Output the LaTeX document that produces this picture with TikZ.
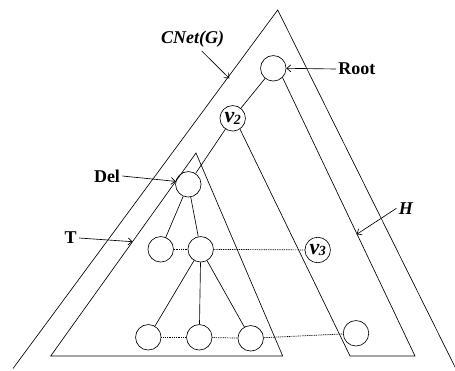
\documentclass[tikz,border=0pt]{standalone}
\usepackage{fontspec}
\setmainfont{Liberation Serif}
\usetikzlibrary{arrows.meta}
\newcommand{\vlab}[1]{{\fontsize{22}{22}\selectfont\bfseries\itshape v}\kern-0.5pt\raisebox{-0.4ex}{\fontsize{14}{14}\selectfont\bfseries\itshape #1}}
\begin{document}
\begin{tikzpicture}[x=1pt,y=-1pt,line width=0.65pt,
  vert/.style={circle,draw,minimum size=25.5pt,inner sep=0pt},
  lbl/.style={font=\fontsize{18}{18}\selectfont\bfseries,inner sep=2pt},
  ptr/.style={-{Straight Barb[length=4pt,width=7pt]},line width=0.65pt},
  link/.style={dash pattern=on 1pt off 0.8pt,line width=0.7pt}]
\useasboundingbox (0,0) rectangle (455,370);

% outer triangle CNet(G)
\coordinate (gTop) at (277.7,10);
\coordinate (gL) at (13,368.5);
\coordinate (gR) at (455,367);
\draw (gL) -- (gTop) -- (gR);

% subtree T
\coordinate (tTop) at (196,153);
\coordinate (tL) at (50.7,356);
\coordinate (tR) at (282.7,356);
\draw (tTop) -- (tL) -- (tR) -- cycle;

% vertices
\node[vert] (root) at (273.3,68.3) {};
\node[vert] (v2) at (232.7,118.3) {\vlab{2}};
\node[vert] (del) at (188.3,184.3) {};
\node[vert] (a) at (160.7,249.3) {};
\node[vert] (b) at (200.7,249.3) {};
\node[vert] (v3) at (317.7,250) {\vlab{3}};
\node[vert] (c) at (148.3,337.3) {};
\node[vert] (d) at (199.3,337.3) {};
\node[vert] (e) at (250.7,338.3) {};
\node[vert] (f) at (356,333.3) {};

% strip H
\coordinate (hL) at (350,356);
\coordinate (hR) at (415,356);
\draw (v2.-56) -- (hL) -- (hR) -- (root.-45);

% tree edges
\draw (root) -- (v2);
\draw (v2) -- (del);
\draw (del) -- (a);
\draw (del) -- (b);
\draw (b) -- (c);
\draw (b) -- (d);
\draw (b) -- (e);

% level links
\draw[link] (a) -- (b);
\draw[link] (b) -- (v3);
\draw[link] (c) -- (d);
\draw[link] (d) -- (e);
\draw[link] (e) -- (f);

% labels and pointers
\node[lbl] (cnet) at (192.7,39.5) {\itshape CNet(G)};
\coordinate (cnetTip) at (229.3,78.3);
\draw[ptr] ([xshift=9pt,yshift=-1pt]cnet.south) -- (cnetTip);

\node[lbl,anchor=west] (rootlbl) at (336,69) {Root};
\draw[ptr] (rootlbl.west) -- (root.east);

\node[lbl] (dellbl) at (107,176) {Del};
\draw[ptr] (dellbl.east) -- (del.167);

\node[lbl] (tlbl) at (70.7,238) {T};
\coordinate (tTip) at (132.6,241.7);
\draw[ptr] (tlbl.east) -- (tTip);

\node[lbl] (hlbl) at (405.8,208.3) {\itshape H};
\coordinate (hTip) at (356.7,234.3);
\draw[ptr] (hlbl.west) -- (hTip);
\end{tikzpicture}
\end{document}
